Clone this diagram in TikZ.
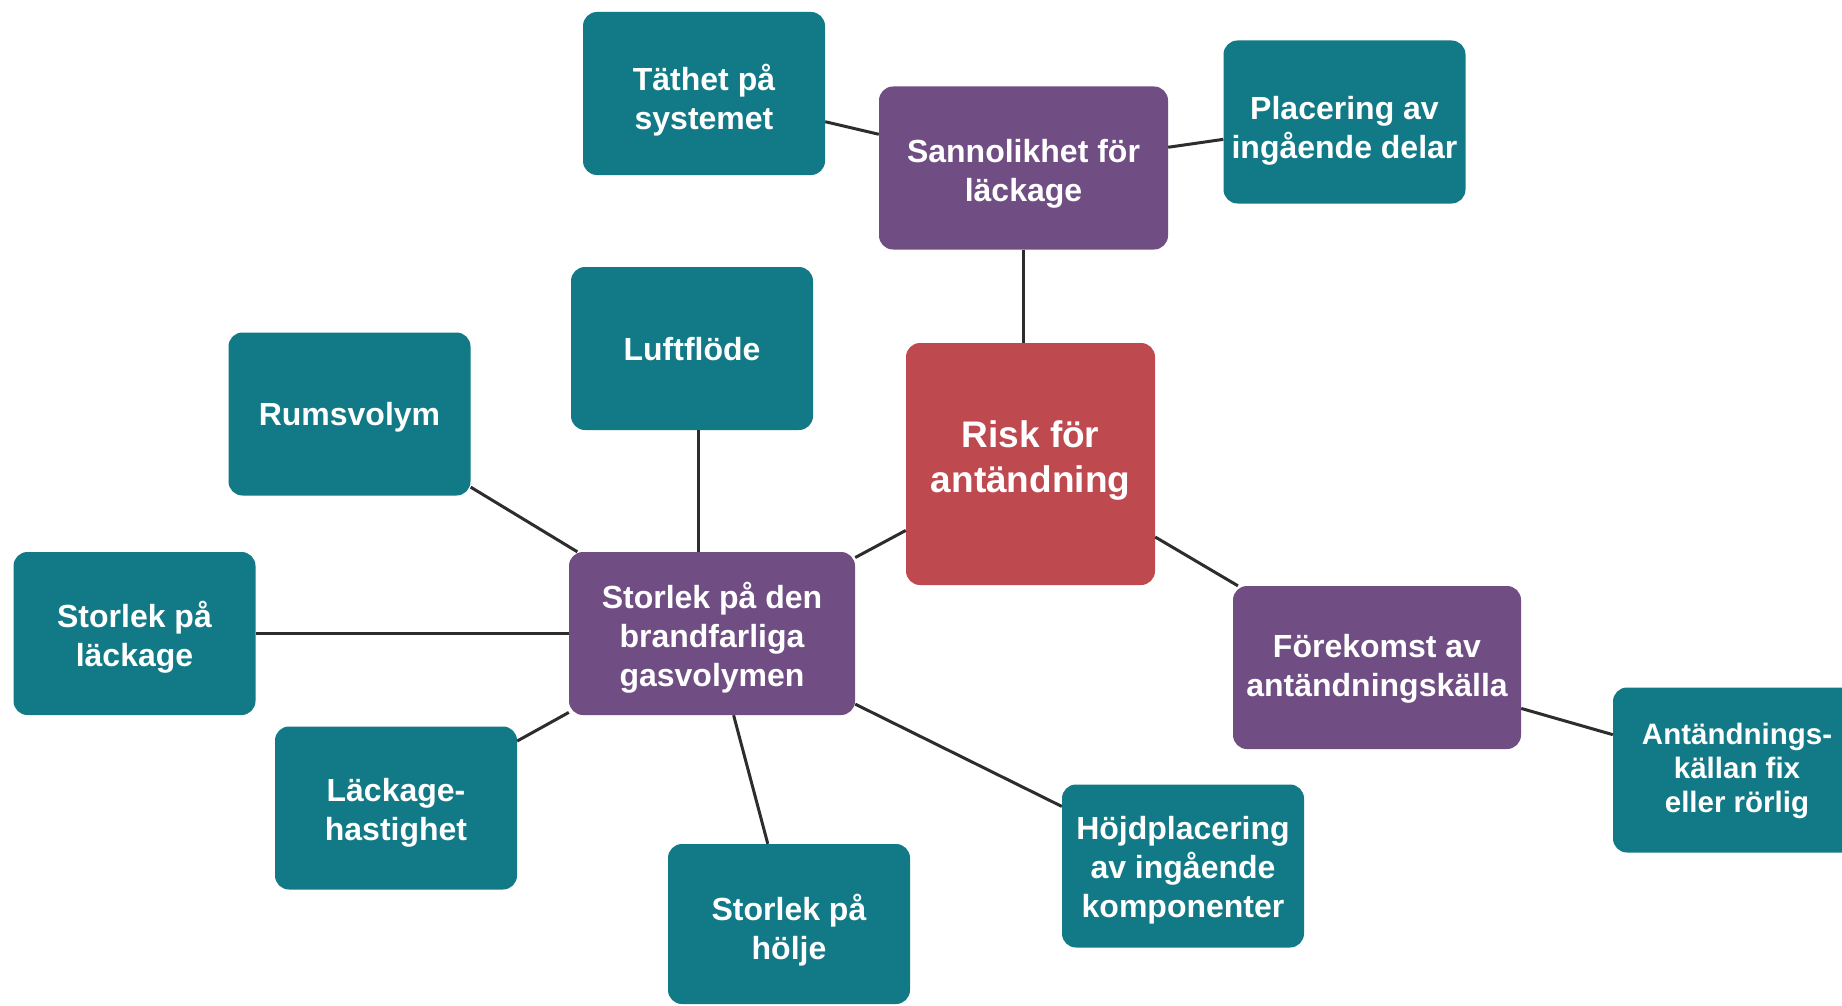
\documentclass[tikz,border=0pt]{standalone}
\usepackage{fontspec}
\setmainfont{Liberation Sans}
\definecolor{tealbox}{RGB}{18,122,135}
\definecolor{purplebox}{RGB}{112,78,132}
\definecolor{redbox}{RGB}{190,74,80}
\definecolor{linkgray}{RGB}{45,45,45}
\tikzset{
  box/.style={rounded corners=14pt, inner sep=0pt},
  tealnode/.style={box, fill=tealbox, minimum width=242pt, minimum height=163pt},
  purplenode/.style={box, fill=purplebox, minimum height=163pt},
  rednode/.style={box, fill=redbox},
  lt/.style={text=white, align=center, inner sep=0pt,
    font=\bfseries\fontsize{32}{39}\selectfont},
  link/.style={draw=linkgray, line width=3pt}
}
\begin{document}
\begin{tikzpicture}[x=1pt,y=-1pt]
\useasboundingbox (0,0) rectangle (1842,1006);
\fill[white] (0,0) rectangle (1842,1006);
% nodes
\node[tealnode, label={[lt, yshift=-7pt]center:Täthet på\\systemet}] (tat) at (704,93.5) {};
\node[purplenode, minimum width=289pt, label={[lt, yshift=-5.5pt]center:Sannolikhet för\\läckage}] (san) at (1023.5,168) {};
\node[tealnode, label={[lt, yshift=-8.5pt]center:Placering av\\ingående delar}] (pla) at (1344.5,122) {};
\node[tealnode, label={[lt, yshift=-1pt]center:Luftflöde}] (luf) at (692,348.5) {};
\node[rednode, minimum width=249pt, minimum height=242pt,
  label={[lt, font=\bfseries\fontsize{37}{45}\selectfont, yshift=3.5pt]center:Risk för\\antändning}] (risk) at (1030.5,464) {};
\node[tealnode, label={[lt, yshift=-3.5pt]center:Rumsvolym}] (rum) at (349.5,414) {};
\node[tealnode, label={[lt, yshift=-4pt]center:Storlek på\\läckage}] (stl) at (134.5,633.5) {};
\node[purplenode, minimum width=286pt, label={[lt, yshift=-4.5pt]center:Storlek på den\\brandfarliga\\gasvolymen}] (gas) at (712,633.5) {};
\node[purplenode, minimum width=288pt, label={[lt, yshift=-1pt]center:Förekomst av\\antändningskälla}] (for) at (1377,667.5) {};
\node[tealnode, minimum width=248pt, minimum height=165pt,
  label={[lt, font=\bfseries\fontsize{29.5}{34}\selectfont, yshift=-1pt]center:Antändnings-\\källan fix\\eller rörlig}] (ant) at (1737,770) {};
\node[tealnode, label={[lt, yshift=-5pt]center:Läckage-\\hastighet}] (lh) at (396,808) {};
\node[tealnode, minimum height=160pt, label={[lt, yshift=-6pt]center:Storlek på\\hölje}] (hol) at (789,924) {};
\node[tealnode, label={[lt, yshift=-4pt]center:Höjdplacering\\av ingående\\komponenter}] (hoj) at (1183,866) {};
% connectors
\draw[link] (tat) -- (san);
\draw[link] (san) -- (pla);
\draw[link] (san.south) -- (san.south |- risk.north);
\draw[link] ([xshift=6pt]luf.south) -- ([xshift=6pt]luf.south |- gas.north);
\draw[link] (rum) -- (gas);
\draw[link] (stl) -- (gas);
\draw[link] (lh) -- (gas);
\draw[link] (hol) -- (gas);
\draw[link] (hoj) -- (gas);
\draw[link] (risk) -- (gas);
\draw[link] (risk) -- (for);
\draw[link] (for) -- (ant);
\end{tikzpicture}
\end{document}
